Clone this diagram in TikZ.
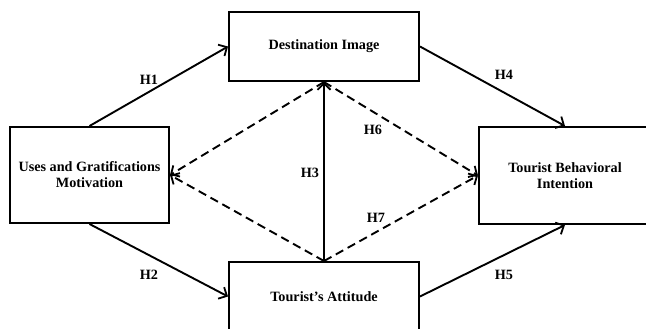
\documentclass[tikz,border=0pt]{standalone}
\usepackage{fontspec}
\setmainfont{Liberation Serif}
\usepackage{tikz}
\usetikzlibrary{arrows.meta}
\usetikzlibrary{positioning}
\tikzstyle{construct}=[draw=black, line width=2pt, fill=white, align=center,
    inner sep=0pt, font=\fontsize{14.2}{16}\selectfont\bfseries]
\tikzstyle{hyp}=[line width=1.9pt, -{Straight Barb[length=6.5pt,width=13pt,line width=1.8pt]}]
\tikzstyle{hyp_dashed}=[hyp, dash pattern=on 8.5pt off 5pt]
\tikzstyle{hlabel}=[font=\fontsize{14.2}{16}\selectfont\bfseries]

\begin{document}
\begin{tikzpicture}[x=1pt, y=-1pt]
\useasboundingbox (0,0) rectangle (646,329);
\clip (0,0) rectangle (646,329);
\node[construct, minimum width=159pt, minimum height=96pt] (ugm) at (89.5,175){Uses and Gratifications\\Motivation};
\node[construct, minimum width=190pt, minimum height=69pt] (dimg) at (324,46.5){Destination Image};
\node[construct, minimum width=190pt, minimum height=69pt] (att) at (324,296.5){Tourist’s Attitude};
\node[construct, minimum width=172pt, minimum height=97pt] (tbi) at (565,175.5){Tourist Behavioral\\Intention};
\draw[hyp](ugm.north) -- (dimg.west);
\draw[hyp](ugm.south) -- (att.west);
\draw[hyp, {Straight Barb[length=6.5pt,width=13pt,line width=1.8pt]}-](dimg.south) -- (att.north);
\draw[hyp](dimg.east) -- (tbi.north);
\draw[hyp](att.east) -- (tbi.south);
\draw[hyp_dashed](dimg.south) -- (ugm.east);
\draw[hyp_dashed](att.north) -- (ugm.east);
\draw[hyp_dashed](dimg.south) -- (tbi.west);
\draw[hyp_dashed](att.north) -- (tbi.west);
\node[hlabel] (h1) at (149,80){H1};
\node[hlabel] (h2) at (149,275){H2};
\node[hlabel] (h3) at (310,173){H3};
\node[hlabel] (h4) at (504,75){H4};
\node[hlabel] (h5) at (504,275){H5};
\node[hlabel] (h6) at (373,130){H6};
\node[hlabel] (h7) at (376,218){H7};
\end{tikzpicture}
\end{document}
